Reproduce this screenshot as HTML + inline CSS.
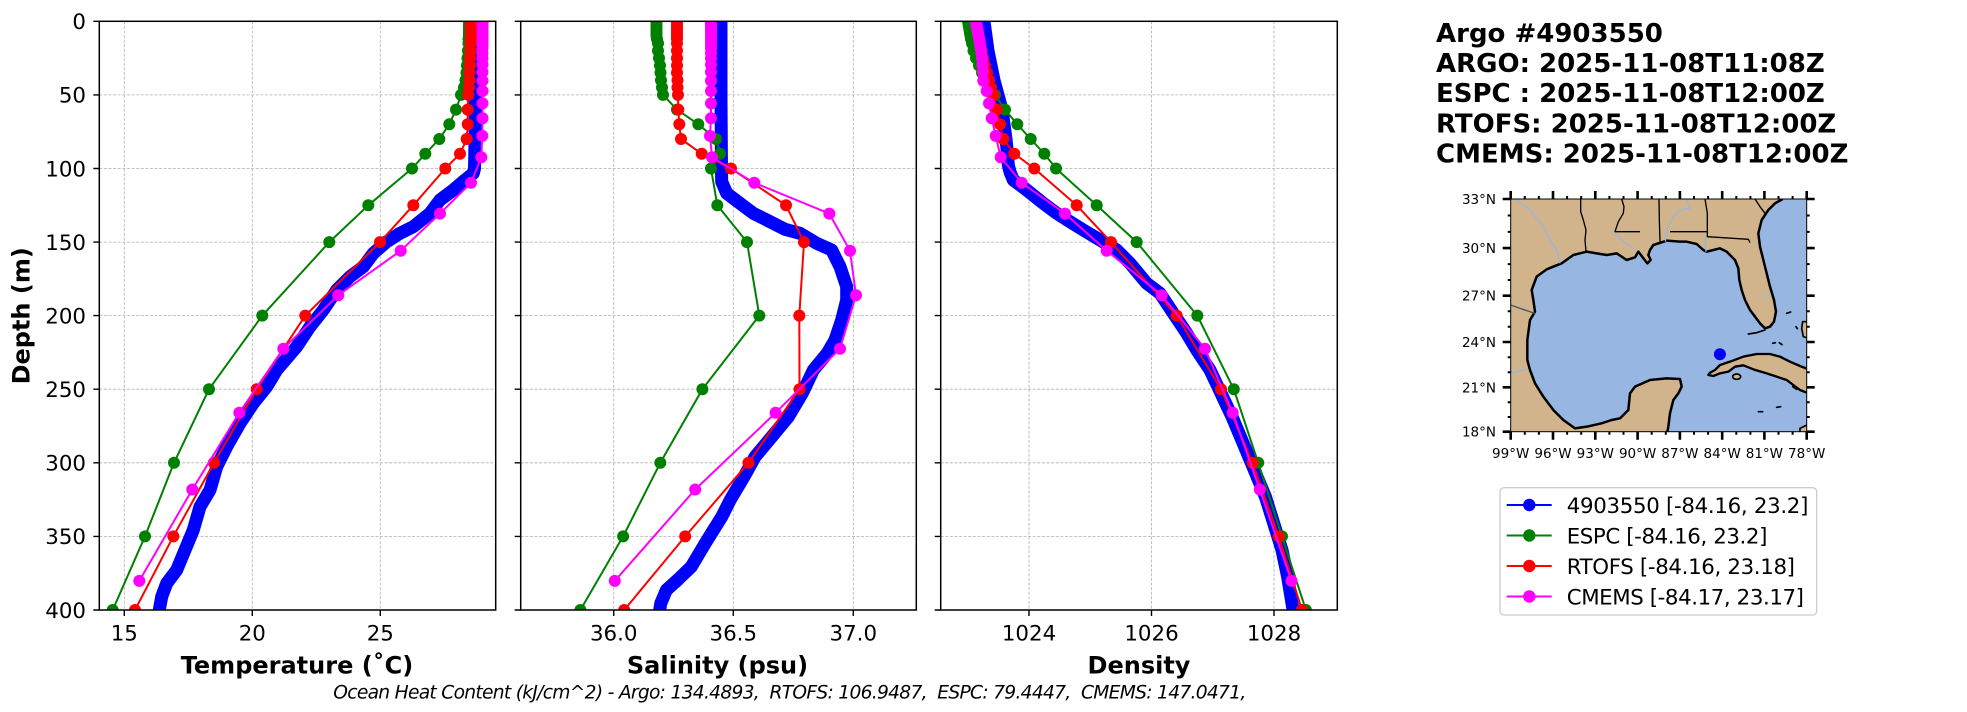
<!DOCTYPE html>
<html><head><meta charset="utf-8"><style>
html,body{margin:0;padding:0;background:#fff;}
svg{display:block;}
text{font-family:"DejaVu Sans","Liberation Sans",sans-serif;fill:#000;}
</style></head><body>
<svg width="1967" height="712" viewBox="0 0 1967 712" xmlns="http://www.w3.org/2000/svg">
<defs>
<clipPath id="c1"><rect x="99.3" y="21.3" width="396.4" height="588.7"/></clipPath>
<clipPath id="c2"><rect x="520.7" y="21.3" width="395.6" height="588.7"/></clipPath>
<clipPath id="c3"><rect x="940.7" y="21.3" width="396.6" height="588.7"/></clipPath>
<clipPath id="cm"><rect x="272" y="57" width="888" height="698"/></clipPath>
<marker id="mg" markerWidth="12" markerHeight="12" refX="6" refY="6" markerUnits="userSpaceOnUse" overflow="visible"><circle cx="6" cy="6" r="6" fill="#008000"/></marker>
<marker id="mr" markerWidth="12" markerHeight="12" refX="6" refY="6" markerUnits="userSpaceOnUse" overflow="visible"><circle cx="6" cy="6" r="6" fill="#ff0000"/></marker>
<marker id="mm" markerWidth="12" markerHeight="12" refX="6" refY="6" markerUnits="userSpaceOnUse" overflow="visible"><circle cx="6" cy="6" r="6" fill="#ff00ff"/></marker>
</defs>
<rect width="1967" height="712" fill="#fff"/>

<!-- grids -->
<g stroke="#b0b0b0" stroke-width="0.8" stroke-dasharray="3,1.6" fill="none">
<path d="M124.3,21.3V610M252.3,21.3V610M380.3,21.3V610"/>
<path d="M613.7,21.3V610M733.3,21.3V610M853.3,21.3V610"/>
<path d="M1029,21.3V610M1151.5,21.3V610M1274,21.3V610"/>
<path d="M99.3,94.9H495.7M99.3,168.5H495.7M99.3,242.1H495.7M99.3,315.6H495.7M99.3,389.2H495.7M99.3,462.8H495.7M99.3,536.4H495.7"/>
<path d="M520.7,94.9H916.3M520.7,168.5H916.3M520.7,242.1H916.3M520.7,315.6H916.3M520.7,389.2H916.3M520.7,462.8H916.3M520.7,536.4H916.3"/>
<path d="M940.7,94.9H1337.3M940.7,168.5H1337.3M940.7,242.1H1337.3M940.7,315.6H1337.3M940.7,389.2H1337.3M940.7,462.8H1337.3M940.7,536.4H1337.3"/>
</g>

<!-- Panel 1 temperature -->
<g clip-path="url(#c1)" fill="none" stroke-linejoin="round">
<polyline stroke="#0000ff" stroke-width="13" stroke-linecap="round" points="476,21.3 476,60 475.5,100 475,140 474.5,168.5 473.3,173.3 465,180 453.3,190 440,200 430,213.3 413.3,226.7 400,233.3 386.7,241.7 373.3,253.3 363.3,266.7 350,276.7 336.7,290 323.3,310 310,326.7 296.7,346.7 276.7,370 266.7,386.7 253.3,403.3 240,423.3 226.7,446.7 216.7,466.7 210,490 200,506.7 193.3,530 185,550 176.7,570 166.7,583.3 161.7,596.7 159.3,610"/>
<polyline stroke="#008000" stroke-width="2" marker-start="url(#mg)" marker-mid="url(#mg)" marker-end="url(#mg)" points="469,21.3 469,24.2 469,27.2 469,30.1 469,33.1 469,36 468.5,39 468.5,43.4 468,50.7 467.5,58.1 467,65.5 466.5,72.8 465.5,80.2 464,87.5 461,94.9 456,109.6 449.3,124.3 439.3,139 425.3,153.8 412,168.5 368.3,205.3 329.3,242.1 262.3,315.6 209,389.2 174,462.8 145,536.4 112.7,610"/>
<polyline stroke="#ff0000" stroke-width="2" marker-start="url(#mr)" marker-mid="url(#mr)" marker-end="url(#mr)" points="471,21.3 471,24.2 471,27.2 471,30.1 471,33.1 471,36 471,39 470.5,43.4 470.5,50.7 470,58.1 470,65.5 469.5,72.8 469.5,80.2 469,87.5 468.3,94.9 467.7,109.6 467.7,124.3 466.7,139 460,153.8 445.3,168.5 413.3,205.3 380,242.1 305.3,315.6 256.7,389.2 214,462.8 173.3,536.4 135,610"/>
<polyline stroke="#ff00ff" stroke-width="2" marker-start="url(#mm)" marker-mid="url(#mm)" marker-end="url(#mm)" points="482.5,22 482.5,23.6 482.5,25.2 482.5,26.9 482.5,28.8 482.5,30.8 482.5,33 482.5,35.4 482.5,38.1 482.5,41.1 482.5,44.6 482.5,48.5 482.5,53.1 482.5,58.4 482.5,64.6 482.5,72 482.5,80.7 482.5,91 482.5,103.4 482.5,118.2 482.3,135.9 481.3,157.2 471,182.8 440,213.6 400.7,250.7 338.3,295.2 283.3,348.7 239.3,412.8 192.3,489.5 139.3,580.9"/>
</g>

<!-- Panel 2 salinity -->
<g clip-path="url(#c2)" fill="none" stroke-linejoin="round">
<polyline stroke="#0000ff" stroke-width="13" stroke-linecap="round" points="721,21.3 721,100 721.5,170 721.7,181.7 726.7,193.3 740,203.3 753.3,213.3 766.7,220 785,229.3 800,233.3 816.7,243.3 831.7,250 840,266.7 846.7,286.7 846.7,300 841.7,320 835,340 827.2,353.3 813.4,370 802.3,393.3 788.4,416.7 771.8,436.7 755.1,456.7 744,476.7 730.2,500 721.8,516.7 713.5,530 705.2,543.3 691.3,566.7 677.5,580 666.4,590 660.8,603.3 659.7,610"/>
<polyline stroke="#008000" stroke-width="2" marker-start="url(#mg)" marker-mid="url(#mg)" marker-end="url(#mg)" points="656.5,21.3 656.5,24.2 656.5,27.2 656.5,30.1 656.5,33.1 656.5,36 657,39 658,43.4 658,50.7 659,58.1 660,65.5 660.5,72.8 661,80.2 662,87.5 663,94.9 677,109.6 698.3,124.3 716,139 720,153.8 711,168.5 717.3,205.3 747,242.1 759.3,315.6 702.4,389.2 660.3,462.8 623.1,536.4 580.4,610"/>
<polyline stroke="#ff0000" stroke-width="2" marker-start="url(#mr)" marker-mid="url(#mr)" marker-end="url(#mr)" points="677,21.3 677,24.2 677,27.2 677,30.1 677,33.1 677,36 677,39 677,43.4 677,50.7 677,58.1 677,65.5 677,72.8 677.5,80.2 677.5,87.5 678,94.9 678.3,109.6 679.3,124.3 681,139 701.7,153.8 731,168.5 786,205.3 804,242.1 799.3,315.6 799.5,389.2 748.5,462.8 685.2,536.4 624.2,610"/>
<polyline stroke="#ff00ff" stroke-width="2" marker-start="url(#mm)" marker-mid="url(#mm)" marker-end="url(#mm)" points="711,22 711,23.6 711,25.2 711,26.9 711,28.8 711,30.8 711,33 711,35.4 711,38.1 711,41.1 711,44.6 711,48.5 711,53.1 711,58.4 711,64.6 711,72 711,80.7 711,91 711,103.4 711,118.2 710,135.9 712,157.2 754.3,182.8 829.3,213.6 850,250.7 856,295.2 840,348.7 775.6,412.8 695.2,489.5 614.8,580.9"/>
</g>

<!-- Panel 3 density -->
<g clip-path="url(#c3)" fill="none" stroke-linejoin="round">
<polyline stroke="#0000ff" stroke-width="13" stroke-linecap="round" points="984,21.3 986,36 988,50.7 991,65.5 994,80.2 998,94.9 1002,109.6 1004,124.3 1006,139 1007.5,153.8 1008.3,165 1010,172 1013.3,180 1026.7,190 1043.3,203.3 1056.7,213.3 1070,221.7 1083.3,230 1100,240 1116.7,250 1130,263.3 1146.7,283.3 1160,293.3 1173.3,313.3 1186.7,333.3 1196.7,350 1210,370 1221,393.3 1232,416.7 1243.2,443.3 1254.3,470 1265.4,496.7 1273.7,523.3 1282,550 1287.6,576.7 1293.1,610"/>
<polyline stroke="#008000" stroke-width="2" marker-start="url(#mg)" marker-mid="url(#mg)" marker-end="url(#mg)" points="968,21.3 968.5,24.2 969,27.2 969.5,30.1 970,33.1 970.5,36 971,39 972,43.4 973.5,50.7 976,58.1 979,65.5 982,72.8 986,80.2 990,87.5 995,94.9 1005,109.6 1017.3,124.3 1030.7,139 1044.3,153.8 1056,168.5 1096.7,205.3 1136.7,242.1 1197.3,315.6 1233.8,389.2 1258.2,462.8 1282,536.4 1305.9,610"/>
<polyline stroke="#ff0000" stroke-width="2" marker-start="url(#mr)" marker-mid="url(#mr)" marker-end="url(#mr)" points="976,21.3 976.5,24.2 977,27.2 977.5,30.1 978,33.1 978.5,36 979,39 980,43.4 981.5,50.7 983,58.1 985,65.5 987,72.8 989,80.2 991,87.5 993.3,94.9 996.7,109.6 1000,124.3 1003.3,139 1014.3,153.8 1034.3,168.5 1076.7,205.3 1111,242.1 1176.7,315.6 1221,389.2 1252.6,462.8 1278.7,536.4 1302,610"/>
<polyline stroke="#ff00ff" stroke-width="2" marker-start="url(#mm)" marker-mid="url(#mm)" marker-end="url(#mm)" points="976,22 976.3,23.6 976.6,25.2 977,26.9 977.3,28.8 977.7,30.8 978,33 978.5,35.4 979,38.1 979.5,41.1 980,44.6 980.7,48.5 981.3,53.1 982,58.4 982.5,64.6 983,72 983.3,80.7 986.7,91 989,103.4 991.7,118.2 995.7,135.9 1000.7,157.2 1021.7,182.8 1065,213.6 1106.7,250.7 1161.7,295.2 1205,348.7 1232.7,412.8 1259.8,489.5 1291.5,580.9"/>
</g>

<!-- spines -->
<g fill="none" stroke="#000" stroke-width="1.5">
<rect x="99.3" y="21.3" width="396.4" height="588.7"/>
<rect x="520.7" y="21.3" width="395.6" height="588.7"/>
<rect x="940.7" y="21.3" width="396.6" height="588.7"/>
</g>
<!-- ticks -->
<g stroke="#000" stroke-width="1.4">
<path d="M93.3,21.3H99.3M93.3,94.9H99.3M93.3,168.5H99.3M93.3,242.1H99.3M93.3,315.6H99.3M93.3,389.2H99.3M93.3,462.8H99.3M93.3,536.4H99.3M93.3,610H99.3"/>
<path d="M514.7,21.3H520.7M514.7,94.9H520.7M514.7,168.5H520.7M514.7,242.1H520.7M514.7,315.6H520.7M514.7,389.2H520.7M514.7,462.8H520.7M514.7,536.4H520.7M514.7,610H520.7"/>
<path d="M934.7,21.3H940.7M934.7,94.9H940.7M934.7,168.5H940.7M934.7,242.1H940.7M934.7,315.6H940.7M934.7,389.2H940.7M934.7,462.8H940.7M934.7,536.4H940.7M934.7,610H940.7"/>
<path d="M124.3,610V616M252.3,610V616M380.3,610V616M613.7,610V616M733.3,610V616M853.3,610V616M1029,610V616M1151.5,610V616M1274,610V616"/>
</g>

<!-- tick labels -->
<g font-size="21.33" text-anchor="end">
<text x="86" y="29.1">0</text>
<text x="86" y="102.7">50</text>
<text x="86" y="176.3">100</text>
<text x="86" y="249.9">150</text>
<text x="86" y="323.4">200</text>
<text x="86" y="397">250</text>
<text x="86" y="470.6">300</text>
<text x="86" y="544.2">350</text>
<text x="86" y="617.8">400</text>
</g>
<g font-size="21.33" text-anchor="middle">
<text x="124.3" y="640.5">15</text>
<text x="252.3" y="640.5">20</text>
<text x="380.3" y="640.5">25</text>
<text x="613.7" y="640.5">36.0</text>
<text x="733.3" y="640.5">36.5</text>
<text x="853.3" y="640.5">37.0</text>
<text x="1029" y="640.5">1024</text>
<text x="1151.5" y="640.5">1026</text>
<text x="1274" y="640.5">1028</text>
</g>
<g font-size="24" font-weight="bold" text-anchor="middle">
<text x="297" y="673.3">Temperature (˚C)</text>
<text x="717.5" y="673.3">Salinity (psu)</text>
<text x="1139" y="673.3">Density</text>
<text transform="translate(29.5,315.8) rotate(-90)">Depth (m)</text>
</g>
<text x="333.3" y="698.5" font-size="18.67" font-style="italic" textLength="913" lengthAdjust="spacing" xml:space="preserve">Ocean Heat Content (kJ/cm^2) - Argo: 134.4893,  RTOFS: 106.9487,  ESPC: 79.4447,  CMEMS: 147.0471,</text>

<!-- title -->
<g font-size="26" font-weight="bold">
<text x="1436" y="41.8">Argo #4903550</text>
<text x="1436" y="72">ARGO: 2025-11-08T11:08Z</text>
<text x="1436" y="102.2">ESPC : 2025-11-08T12:00Z</text>
<text x="1436" y="132.4">RTOFS: 2025-11-08T12:00Z</text>
<text x="1436" y="162.6">CMEMS: 2025-11-08T12:00Z</text>
</g>

<!-- map -->
<g transform="translate(1420,180) scale(0.333333)">
<g clip-path="url(#cm)">
<rect x="272" y="57" width="888" height="698" fill="#97b6e1"/>
<path fill="#d2b48c" d="M272,57 L1088,57 L1065,70 L1045,90 L1025,120 L1015,160 L1020,200 L1030,240 L1040,280 L1050,320 L1062,360 L1068,395 L1062,425 L1050,440 L1035,445 L1020,430 L1005,410 L990,390 L975,360 L965,330 L958,300 L955,265 L945,240 L920,215 L900,205 L880,210 L860,215 L850,210 L830,192 L800,185 L780,185 L740,182 L700,195 L690,210 L685,225 L692,240 L682,250 L668,232 L655,215 L645,232 L620,240 L590,220 L560,225 L530,220 L500,215 L480,220 L460,225 L425,250 L380,268 L350,290 L335,330 L340,360 L345,395 L330,420 L322,480 L322,540 L330,570 L345,610 L370,650 L400,690 L430,720 L465,745 L500,740 L545,730 L575,720 L600,715 L625,690 L630,640 L645,620 L690,600 L740,595 L780,597 L785,620 L775,640 L760,660 L750,700 L745,740 L742,755 L272,755 Z"/>
<path fill="none" stroke="#000" stroke-width="7.5" stroke-linejoin="round" d="M1088,57 L1065,70 L1045,90 L1025,120 L1015,160 L1020,200 L1030,240 L1040,280 L1050,320 L1062,360 L1068,395 L1062,425 L1050,440 L1035,445 L1020,430 L1005,410 L990,390 L975,360 L965,330 L958,300 L955,265 L945,240 L920,215 L900,205 L880,210 L860,215 L850,210 L830,192 L800,185 L780,185 L740,182 L700,195 L690,210 L685,225 L692,240 L682,250 L668,232 L655,215 L645,232 L620,240 L590,220 L560,225 L530,220 L500,215 L480,220 L460,225 L425,250 L380,268 L350,290 L335,330 L340,360 L345,395 L330,420 L322,480 L322,540 L330,570 L345,610 L370,650 L400,690 L430,720 L465,745 L500,740 L545,730 L575,720 L600,715 L625,690 L630,640 L645,620 L690,600 L740,595 L780,597 L785,620 L775,640 L760,660 L750,700 L745,740 L742,755"/>
<path fill="#d2b48c" stroke="#000" stroke-width="7" stroke-linejoin="round" d="M865,585 L870,578 L885,570 L900,555 L930,545 L970,530 L1010,522 L1050,522 L1080,530 L1110,545 L1140,558 L1165,568 L1165,640 L1140,630 L1120,615 L1100,600 L1070,590 L1040,580 L1000,568 L970,556 L945,560 L925,575 L900,580 L880,588 Z"/>
<ellipse cx="950" cy="590" rx="12" ry="8" fill="#d2b48c" stroke="#000" stroke-width="5"/>
<path fill="#d2b48c" stroke="#000" stroke-width="5" d="M1148,425 L1165,425 L1165,475 L1150,470 L1145,445 Z"/>
<path fill="#d2b48c" stroke="#000" stroke-width="5" d="M1140,745 L1165,733 L1165,760 L1140,760 Z"/>
<g fill="none" stroke="#000" stroke-width="5" stroke-linecap="round">
<path d="M985,462 L1010,458 L1035,450"/>
<path d="M1100,400 L1112,396 M1058,490 L1066,488 M1078,488 L1086,494 M1128,440 L1132,446 M1015,695 L1028,695 M1070,682 L1082,680 M1118,620 L1130,628"/>
</g>
<g fill="none" stroke="#000" stroke-width="4" stroke-linejoin="round">
<path d="M482,57 L482,95 L490,120 L498,150 L495,180 L498,215"/>
<path d="M605,57 L612,80 L610,100 L595,125 L585,155 L660,155"/>
<path d="M717,57 L718,120 L720,185"/>
<path d="M750,155 L860,155"/>
<path d="M855,57 L862,100 L862,170 L985,178 L990,188"/>
<path d="M1005,57 L1020,80 L1035,100"/>
</g>
<path d="M272,375 L300,385 L345,400" fill="none" stroke="#445566" stroke-width="4"/>
<g fill="none" stroke="#97b6e1" stroke-width="4" stroke-linejoin="round">
<path d="M285,57 L330,90 L370,140 L390,180 L410,210 L420,250"/>
<path d="M800,57 L810,85 L780,90 L760,110 L745,140 L735,170 L737,185"/>
<path d="M580,155 L600,175 L625,195 L645,210"/>
<path d="M855,170 L858,215"/>
<path d="M272,580 L320,568"/>
</g>
<circle cx="1040" cy="348" r="7" fill="#b0b8c0"/>
</g>
</g>
<circle cx="1719.9" cy="354.2" r="6" fill="#0000ff"/>
<rect x="1510.7" y="199" width="296" height="232.7" fill="none" stroke="#000" stroke-width="1"/>
<!-- map major ticks -->
<g stroke="#000" stroke-width="2.6">
<path d="M1502.7,199H1510.7M1502.7,248.1H1510.7M1502.7,295.7H1510.7M1502.7,342H1510.7M1502.7,387.3H1510.7M1502.7,431.7H1510.7"/>
<path d="M1806.7,199H1814.7M1806.7,248.1H1814.7M1806.7,295.7H1814.7M1806.7,342H1814.7M1806.7,387.3H1814.7M1806.7,431.7H1814.7"/>
<path d="M1510.7,191V199M1553,191V199M1595.3,191V199M1637.6,191V199M1679.9,191V199M1722.2,191V199M1764.4,191V199M1806.7,191V199"/>
<path d="M1510.7,431.7V439.7M1553,431.7V439.7M1595.3,431.7V439.7M1637.6,431.7V439.7M1679.9,431.7V439.7M1722.2,431.7V439.7M1764.4,431.7V439.7M1806.7,431.7V439.7"/>
</g>
<g stroke="#000" stroke-width="2">
<path d="M1507.7,417H1510.7M1507.7,402.2H1510.7M1507.7,372.3H1510.7M1507.7,357.3H1510.7M1507.7,326.7H1510.7M1507.7,311.3H1510.7M1507.7,280H1510.7M1507.7,264.1H1510.7M1507.7,231.9H1510.7M1507.7,215.5H1510.7"/>
<path d="M1806.7,417H1809.7M1806.7,402.2H1809.7M1806.7,372.3H1809.7M1806.7,357.3H1809.7M1806.7,326.7H1809.7M1806.7,311.3H1809.7M1806.7,280H1809.7M1806.7,264.1H1809.7M1806.7,231.9H1809.7M1806.7,215.5H1809.7"/>
<path d="M1524.8,196V199M1538.9,196V199M1567.1,196V199M1581.2,196V199M1609.4,196V199M1623.5,196V199M1651.7,196V199M1665.8,196V199M1694,196V199M1708.1,196V199M1736.3,196V199M1750.4,196V199M1778.5,196V199M1792.6,196V199"/>
<path d="M1524.8,431.7V434.7M1538.9,431.7V434.7M1567.1,431.7V434.7M1581.2,431.7V434.7M1609.4,431.7V434.7M1623.5,431.7V434.7M1651.7,431.7V434.7M1665.8,431.7V434.7M1694,431.7V434.7M1708.1,431.7V434.7M1736.3,431.7V434.7M1750.4,431.7V434.7M1778.5,431.7V434.7M1792.6,431.7V434.7"/>
</g>
<g font-size="13.5" text-anchor="end">
<text x="1496" y="204">33°N</text>
<text x="1496" y="253.1">30°N</text>
<text x="1496" y="300.7">27°N</text>
<text x="1496" y="347">24°N</text>
<text x="1496" y="392.3">21°N</text>
<text x="1496" y="436.7">18°N</text>
</g>
<g font-size="13.5" text-anchor="middle">
<text x="1510.7" y="458">99°W</text>
<text x="1553" y="458">96°W</text>
<text x="1595.3" y="458">93°W</text>
<text x="1637.6" y="458">90°W</text>
<text x="1679.9" y="458">87°W</text>
<text x="1722.2" y="458">84°W</text>
<text x="1764.4" y="458">81°W</text>
<text x="1806.7" y="458">78°W</text>
</g>

<!-- legend -->
<rect x="1500" y="487.7" width="316.7" height="127.3" rx="4" fill="#fff" stroke="#cccccc" stroke-width="1.3"/>
<g stroke-width="2">
<line x1="1506.7" y1="505" x2="1551.7" y2="505" stroke="#0000ff"/>
<line x1="1506.7" y1="535.5" x2="1551.7" y2="535.5" stroke="#008000"/>
<line x1="1506.7" y1="566" x2="1551.7" y2="566" stroke="#ff0000"/>
<line x1="1506.7" y1="596.5" x2="1551.7" y2="596.5" stroke="#ff00ff"/>
</g>
<circle cx="1529.3" cy="505" r="6.2" fill="#0000ff"/>
<circle cx="1529.3" cy="535.5" r="6.2" fill="#008000"/>
<circle cx="1529.3" cy="566" r="6.2" fill="#ff0000"/>
<circle cx="1529.3" cy="596.5" r="6.2" fill="#ff00ff"/>
<g font-size="21.33">
<text x="1566.7" y="512.8" textLength="241.7" lengthAdjust="spacing">4903550 [-84.16, 23.2]</text>
<text x="1566.7" y="543.3" textLength="200.7" lengthAdjust="spacing">ESPC [-84.16, 23.2]</text>
<text x="1566.7" y="573.8" textLength="228.3" lengthAdjust="spacing">RTOFS [-84.16, 23.18]</text>
<text x="1566.7" y="604.3" textLength="237.3" lengthAdjust="spacing">CMEMS [-84.17, 23.17]</text>
</g>
</svg>
</body></html>
